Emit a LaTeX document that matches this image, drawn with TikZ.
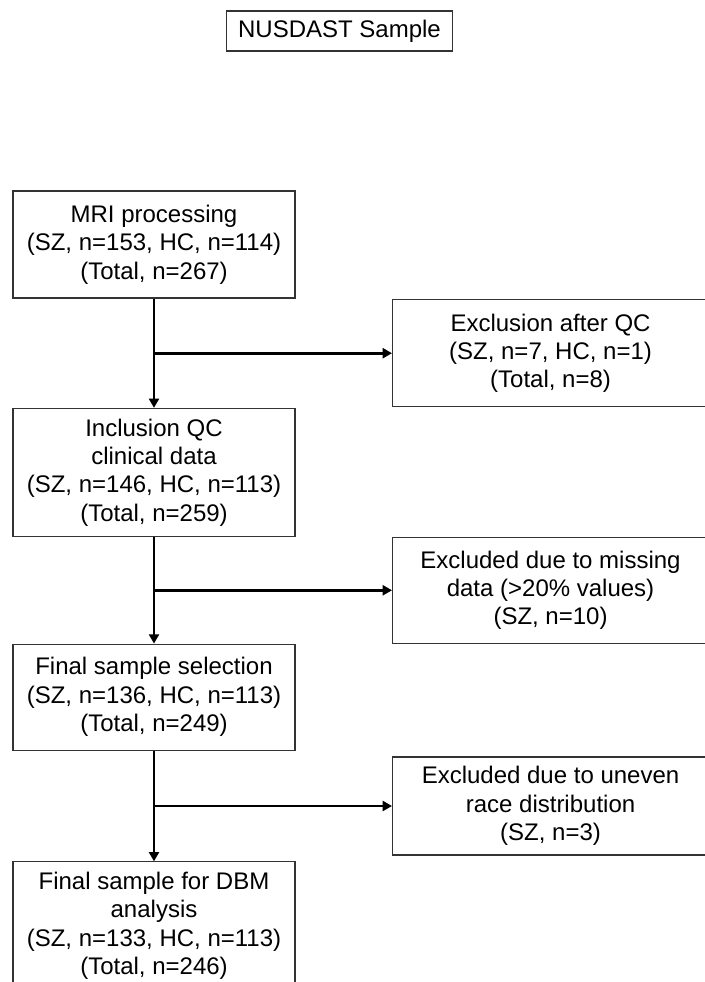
\documentclass[tikz,border=0pt]{standalone}
\usepackage{fontspec}
\setmainfont{Liberation Sans}
\usetikzlibrary{positioning, calc, arrows.meta}

\begin{document}
\begin{tikzpicture}[
  x=0.75pt, y=-0.75pt,
  font=\fontsize{18}{21.3}\selectfont,
  node distance=82pt and 178.5pt,
  every node/.style={align=center},
  box/.style={rectangle, draw=black!80, line width=0.8pt, inner sep=2pt},
  stage/.style={box, minimum width=211.5pt},
  excl/.style={box, minimum width=237pt},
  flow/.style={line width=2.2pt, -{Triangle[length=7pt,width=7.5pt]}}
]

% --- Page frame ---
\useasboundingbox (0,0) rectangle (704,982);

% --- Title ---
\node[box, minimum width=170pt, minimum height=30pt] (title) at (339.5,31) {NUSDAST Sample};

% --- Main stages ---
\node[stage, minimum height=80.25pt] (mri) at (154,244.5) {MRI processing\\(SZ, n=153, HC, n=114)\\(Total, n=267)};
\node[stage, minimum height=96pt, below=of mri] (incl) {Inclusion QC\\clinical data\\(SZ, n=146, HC, n=113)\\(Total, n=259)};
\node[stage, minimum height=79.5pt, below=80pt of incl] (final) {Final sample selection\\(SZ, n=136, HC, n=113)\\(Total, n=249)};
\node[stage, minimum height=96pt, below=83pt of final] (dbm) {Final sample for DBM\\analysis\\(SZ, n=133, HC, n=113)\\(Total, n=246)};

% --- Split points ---
\coordinate (s1) at ($(mri.south)!0.5!(incl.north)$);
\coordinate (s2) at ($(incl.south)!0.5!(final.north)$);
\coordinate (s3) at ($(final.south)!0.5!(dbm.north)$);

% --- Exclusions ---
\node[excl, minimum height=80.25pt, right=of s1] (qc) {Exclusion after QC\\(SZ, n=7, HC, n=1)\\(Total, n=8)};
\node[excl, minimum height=79.5pt, right=of s2] (missing) {Excluded due to missing\\data (>20\% values)\\(SZ, n=10)};
\node[excl, minimum height=73.5pt, right=of s3] (uneven) {Excluded due to uneven\\race distribution\\(SZ, n=3)};

% --- Arrows ---
\draw[flow] (mri) -- (incl);
\draw[flow] (incl) -- (final);
\draw[flow] (final) -- (dbm);
\draw[flow] (s1) -- (qc);
\draw[flow] (s2) -- (missing);
\draw[flow] (s3) -- (uneven);

\end{tikzpicture}
\end{document}
